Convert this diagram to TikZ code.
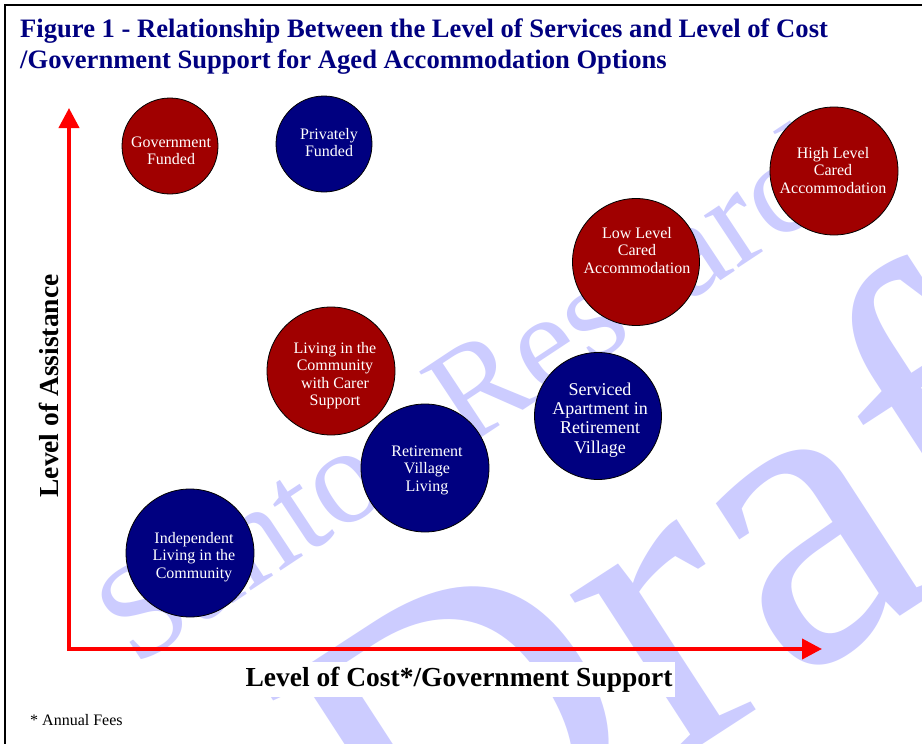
\documentclass[tikz,border=0pt]{standalone}
\usepackage{fontspec}
\setmainfont{Liberation Serif}
\usetikzlibrary{arrows.meta}
\definecolor{cred}{RGB}{160,0,0}
\definecolor{cblue}{RGB}{0,0,128}
\definecolor{wmc}{RGB}{204,204,255}
\definecolor{axred}{RGB}{255,0,0}
\newcommand{\ctxt}[1]{\begin{tabular}[t]{@{}c@{}}#1\end{tabular}}
\begin{document}
\begin{tikzpicture}[x=1pt,y=-1pt,
  wmtext/.style={text=wmc, inner sep=0pt, anchor=base west},
  titletext/.style={text=cblue, inner sep=0pt, anchor=base west, font=\bfseries\fontsize{26.6}{30}\selectfont},
  axis/.style={draw=axred, line width=4pt, {Triangle[length=20pt,width=20pt]}-{Triangle[length=20pt,width=20pt]}},
  lab/.style={fill=white, text=black, inner xsep=3pt, inner ysep=5pt, anchor=base, font=\bfseries\fontsize{27.5}{30}\selectfont},
  note/.style={fill=white, text=black, inner sep=3pt, anchor=base west, font=\fontsize{16}{18}\selectfont},
  bubble/.style={circle, draw=black, line width=0.8pt, inner sep=0pt},
  redb/.style={bubble, fill=cred},
  blueb/.style={bubble, fill=cblue},
  btext/.style={text=white, inner sep=0pt, anchor=base, font=\fontsize{16}{17.5}\selectfont},
  btextbig/.style={text=white, inner sep=0pt, anchor=base, font=\fontsize{18}{19.4}\selectfont}
]
\useasboundingbox (0,0) rectangle (922,744);
\fill[white] (0,0) rectangle (922,744);
% watermark
\begin{scope}
\clip (0,0) rectangle (922,744);
\node[wmtext, rotate=33.5, font=\fontsize{136}{136}\selectfont] (wm1) at (135,668) {Santos Research};
\node[wmtext, rotate=33, font=\fontsize{430}{430}\selectfont] (wm2) at (410,935) {Draft};
\end{scope}
% frame
\coordinate (fa) at (5,744);
\coordinate (fb) at (5,5);
\coordinate (fc) at (922,5);
\draw[black, line width=2pt] (fa) -- (fb) -- (fc);
% title
\node[titletext] (t1) at (20,37) {Figure 1 - Relationship Between the Level of Services and Level of Cost};
\node[titletext] (t2) at (20,68) {/Government Support for Aged Accommodation Options};
% axes
\coordinate (O) at (69,649);
\coordinate (ytip) at (69,108);
\coordinate (xtip) at (822,649);
\draw[axis] (ytip) -- (O) -- (xtip);
\node[lab, rotate=90] (ylab) at (58,386) {Level of Assistance};
\node[lab] (xlab) at (459,686) {Level of Cost*/Government Support};
\node[note] (fn) at (27,725) {* Annual Fees};
% bubbles
\node[redb, minimum size=96pt] (gov) at (170,146) {};
\node[btext] (govT) at (171,147) {\ctxt{Government\\Funded}};
\node[blueb, minimum size=96pt] (priv) at (324,144) {};
\node[btext] (privT) at (329,139) {\ctxt{Privately\\Funded}};
\node[redb, minimum size=128pt] (high) at (834,171) {};
\node[btext] (highT) at (833,158) {\ctxt{High Level\\Cared\\Accommodation}};
\node[redb, minimum size=127pt] (low) at (636,262) {};
\node[btext] (lowT) at (637,238) {\ctxt{Low Level\\Cared\\Accommodation}};
\node[blueb, minimum size=127pt] (serv) at (598,416) {};
\node[btextbig] (servT) at (600,395) {\ctxt{Serviced\\Apartment in\\Retirement\\Village}};
\node[redb, minimum size=128pt] (carer) at (331,371) {};
\node[btext] (carerT) at (335,353) {\ctxt{Living in the\\Community\\with Carer\\Support}};
\node[blueb, minimum size=128pt] (rvl) at (425,468) {};
\node[btext] (rvlT) at (427,456) {\ctxt{Retirement\\Village\\Living}};
\node[blueb, minimum size=128pt] (indep) at (190,553) {};
\node[btext] (indepT) at (194,543) {\ctxt{Independent\\Living in the\\Community}};
\end{tikzpicture}
\end{document}
